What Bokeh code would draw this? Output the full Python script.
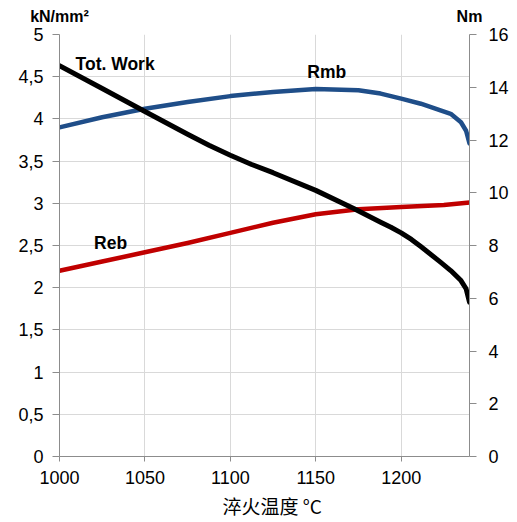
from bokeh.plotting import figure
from bokeh.models import (Range1d, LinearAxis, FixedTicker, Label, Title)
from bokeh.embed import file_html
from bokeh.resources import INLINE

# ---- data ----
temp_rmb = [1000, 1025, 1050, 1075, 1100, 1125, 1150, 1175, 1188, 1200, 1211.5, 1223, 1229, 1235, 1238, 1240]
rmb = [3.90, 4.02, 4.12, 4.20, 4.27, 4.32, 4.355, 4.34, 4.30, 4.24, 4.18, 4.10, 4.06, 3.96, 3.86, 3.71]

temp_reb = [1000, 1025, 1050, 1075, 1100, 1125, 1150, 1175, 1200, 1225, 1240]
reb = [2.20, 2.31, 2.42, 2.53, 2.65, 2.77, 2.87, 2.93, 2.955, 2.98, 3.01]

temp_work = [1000, 1025, 1050, 1075, 1087.5, 1100, 1112.5, 1125, 1150, 1172.5, 1188, 1194,
             1200, 1206, 1211.5, 1223, 1229, 1235, 1238, 1240]
work = [14.82, 13.95, 13.08, 12.22, 11.80, 11.42, 11.07, 10.76, 10.09, 9.39, 8.88, 8.69,
        8.48, 8.23, 7.96, 7.37, 7.05, 6.67, 6.36, 5.85]

x_ticks = [1000, 1050, 1100, 1150, 1200]
left_ticks = [0, 0.5, 1, 1.5, 2, 2.5, 3, 3.5, 4, 4.5, 5]
left_labels = ["0", "0,5", "1", "1,5", "2", "2,5", "3", "3,5", "4", "4,5", "5"]
right_ticks = [0, 2, 4, 6, 8, 10, 12, 14, 16]
unit_names = {1000: "kN/mm²", 1240: "Nm"}

FONT = "Liberation Sans"
AXIS_GREY = "#8c8c8c"
GRID_GREY = "#d9d9d9"

p = figure(width=517, height=522, output_backend="svg", toolbar_location=None,
           x_range=Range1d(1000, 1240), y_range=Range1d(0, 5),
           min_border_left=59, min_border_right=48, min_border_top=34, min_border_bottom=60)
p.outline_line_color = None
p.background_fill_color = "white"
p.border_fill_color = "white"

bottom_axis = p.below[0]
left_axis = p.left[0]
bottom_axis.ticker = FixedTicker(ticks=x_ticks)
left_axis.ticker = FixedTicker(ticks=left_ticks)
left_axis.major_label_overrides = {t: l for t, l in zip(left_ticks, left_labels)}

p.extra_y_ranges = {"nm": Range1d(0, 16)}
right_axis = LinearAxis(y_range_name="nm", ticker=FixedTicker(ticks=right_ticks))
p.add_layout(right_axis, "right")

# grids
p.xgrid.ticker = FixedTicker(ticks=x_ticks)
p.ygrid.ticker = FixedTicker(ticks=left_ticks)
p.grid.grid_line_color = GRID_GREY
p.grid.grid_line_width = 1

# axes styling
for ax in [bottom_axis, left_axis, right_axis]:
    ax.axis_line_color = AXIS_GREY
    ax.major_tick_line_color = AXIS_GREY
    ax.major_tick_in = 0
    ax.major_tick_out = 7
    ax.minor_tick_line_color = None
    ax.major_label_text_font = FONT
    ax.major_label_text_font_size = "18px"
    ax.major_label_text_color = "#000000"
bottom_axis.major_tick_out = 5
bottom_axis.major_label_standoff = 9
left_axis.major_label_standoff = 9
right_axis.major_label_standoff = 12

# unit captions as an undecorated top axis
top_axis = LinearAxis(ticker=FixedTicker(ticks=list(unit_names.keys())),
                      major_label_overrides=unit_names)
top_axis.axis_line_color = None
top_axis.major_tick_line_color = None
top_axis.minor_tick_line_color = None
top_axis.major_tick_out = 0
top_axis.major_tick_in = 0
top_axis.major_label_standoff = 10
top_axis.major_label_text_font = FONT
top_axis.major_label_text_font_style = "bold"
top_axis.major_label_text_font_size = "16px"
top_axis.major_label_text_color = "#000000"
p.add_layout(top_axis, "above")

# lines
p.line(temp_rmb, rmb, line_color="#1F4E89", line_width=4.5, line_cap="round", line_join="round")
p.line(temp_reb, reb, line_color="#C00000", line_width=4.5, line_cap="round", line_join="round")
p.line(temp_work, work, y_range_name="nm", line_color="#000000", line_width=5,
       line_cap="round", line_join="round")

# labels
lab_style = dict(text_font=FONT, text_font_style="bold", text_font_size="17.5px",
                 text_color="#000000", text_baseline="middle")
p.add_layout(Label(x=1009.4, y=4.645, text="Tot. Work", text_align="left", **lab_style))
p.add_layout(Label(x=1156.4, y=4.55, text="Rmb", text_align="center", **lab_style))
p.add_layout(Label(x=1029.9, y=2.535, text="Reb", text_align="center", **lab_style))

p.add_layout(Title(text="淬火温度 °C", align="left", offset=163, standoff=7,
                   text_font="Noto Sans CJK SC", text_font_size="19px",
                   text_font_style="normal", text_color="#000000"), "below")

open("out.html", "w").write(file_html(p, INLINE))
